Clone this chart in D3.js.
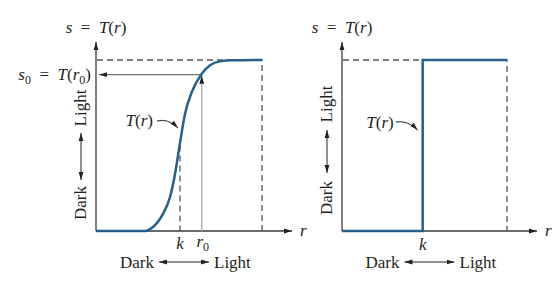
<!DOCTYPE html>
<html>
<head>
<meta charset="utf-8">
<script src="https://cdn.jsdelivr.net/npm/d3@7"></script>
<style>
  body { margin: 0; background: #fff; }
  text { font-family: "Liberation Serif", "DejaVu Serif", serif; fill: #231f20; }
</style>
</head>
<body>
<svg width="557" height="295"></svg>
<script>
let svg = d3.select("svg");

// curve (r and s both normalised to 0..1)
let curve_r = [0, 0.295, 0.343, 0.404, 0.446, 0.476, 0.506, 0.536, 0.577, 0.637, 0.687, 0.747, 0.825, 1];
let curve_s = [0, 0, 0.023, 0.102, 0.199, 0.333, 0.515, 0.684, 0.813, 0.92, 0.969, 0.992, 0.998, 1];
let k_left = 0.506;
let r0 = 0.637;
let s0 = 0.92;

// thresholding function on the right panel
let k_right = 0.489;
let step_r = [0, k_right, k_right, 1];
let step_s = [0, 0, 1, 1];

let blue = "#24618e";
let axis_col = "#3b3b3b";
let dash_col = "#555";

let y_scale = d3.scaleLinear().domain([0, 1]).range([231, 60]);
let x_left = d3.scaleLinear().domain([0, 1]).range([96, 262]);
let x_right = d3.scaleLinear().domain([0, 1]).range([342, 507]);

// arrowheads
let defs = svg.append("defs");
defs.append("marker")
  .attr("id", "head")
  .attr("viewBox", "0 0 10 10")
  .attr("refX", 10).attr("refY", 5)
  .attr("markerUnits", "userSpaceOnUse")
  .attr("markerWidth", 8).attr("markerHeight", 8)
  .attr("orient", "auto-start-reverse")
  .append("path")
    .attr("d", "M0,2 L10,5 L0,8 z")
    .attr("fill", "#222");

// writes a run of [text, italic, sub] pieces into a text node
const richText = function(sel, parts) {
  let shifted = false;
  parts.forEach(([t, it, sub]) => {
    let dy = sub ? (shifted ? 0 : 4) : (shifted ? -4 : 0);
    sel.append("tspan")
      .style("font-style", it ? "italic" : "normal")
      .style("font-size", sub ? "12px" : null)
      .attr("dy", dy || null)
      .text(t);
    shifted = !!sub;
  });
  return sel;
};

const eq = "\u2002=\u2002";
const sTr = [["s", true], [eq, false], ["T", true], ["(", false], ["r", true], [")", false]];

const drawPanel = function(x_scale, opt) {
  let g = svg.append("g");
  let x0 = x_scale(0), x1 = x_scale(1);
  let y0 = y_scale(0), y1 = y_scale(1);

  // axes
  g.append("line")
    .attr("x1", x0).attr("y1", y0).attr("x2", x0).attr("y2", 42)
    .attr("stroke", axis_col).attr("stroke-width", 1.3)
    .attr("marker-end", "url(#head)");
  g.append("line")
    .attr("x1", x0).attr("y1", y0).attr("x2", x1 + 30).attr("y2", y0)
    .attr("stroke", axis_col).attr("stroke-width", 1.3)
    .attr("marker-end", "url(#head)");

  // dashed bounds
  g.append("path")
    .attr("d", `M${x0 + 1},${y1}H${x1}V${y0}`)
    .attr("fill", "none")
    .attr("stroke", dash_col).attr("stroke-width", 1.3)
    .attr("stroke-dasharray", "6,4");

  g.append("text")
    .attr("x", x1 + 38).attr("y", y0 + 5)
    .style("font-size", "17px").style("font-style", "italic")
    .text("r");

  richText(g.append("text")
    .attr("x", x0).attr("y", 33)
    .attr("text-anchor", "middle")
    .style("font-size", "17px"), sTr);

  // vertical Dark <-> Light
  let ax = x0 - 15;
  g.append("text")
    .attr("transform", `translate(${ax},${opt.lightY}) rotate(-90)`)
    .attr("text-anchor", "middle").attr("dy", "0.3em")
    .style("font-size", "17px").text("Light");
  g.append("text")
    .attr("transform", `translate(${ax},${opt.darkY}) rotate(-90)`)
    .attr("text-anchor", "middle").attr("dy", "0.3em")
    .style("font-size", "17px").text("Dark");
  g.append("line")
    .attr("x1", ax).attr("y1", opt.arrowY[0]).attr("x2", ax).attr("y2", opt.arrowY[1])
    .attr("stroke", "#222").attr("stroke-width", 1)
    .attr("marker-start", "url(#head)").attr("marker-end", "url(#head)");

  // horizontal Dark <-> Light
  let mid = (x0 + x1) / 2 + 5;
  g.append("text")
    .attr("x", mid - 30).attr("y", 268)
    .attr("text-anchor", "end")
    .style("font-size", "17px").text("Dark");
  g.append("text")
    .attr("x", mid + 30).attr("y", 268)
    .style("font-size", "17px").text("Light");
  g.append("line")
    .attr("x1", mid - 25).attr("y1", 262).attr("x2", mid + 25).attr("y2", 262)
    .attr("stroke", "#222").attr("stroke-width", 1)
    .attr("marker-start", "url(#head)").attr("marker-end", "url(#head)");

  return g;
};

// ---- left panel ----
let left = drawPanel(x_left, { lightY: 108, darkY: 203, arrowY: [133, 180] });

let line_left = d3.line()
  .x((d, i) => x_left(curve_r[i]))
  .y((d) => y_scale(d))
  .curve(d3.curveMonotoneX);

// k dashed drop line
left.append("line")
  .attr("x1", x_left(k_left)).attr("x2", x_left(k_left))
  .attr("y1", y_scale(0.5)).attr("y2", y_scale(0))
  .attr("stroke", dash_col).attr("stroke-width", 1.3)
  .attr("stroke-dasharray", "6,4");

// r0 -> s0 arrows
left.append("line")
  .attr("x1", x_left(r0)).attr("x2", x_left(r0))
  .attr("y1", y_scale(0)).attr("y2", y_scale(s0) + 2)
  .attr("stroke", "#aaa").attr("stroke-width", 1.3)
  .attr("marker-end", "url(#head)");
left.append("line")
  .attr("x1", x_left(r0)).attr("x2", x_left(0) + 3)
  .attr("y1", y_scale(s0) + 1).attr("y2", y_scale(s0) + 1)
  .attr("stroke", "#555").attr("stroke-width", 1)
  .attr("marker-end", "url(#head)");

left.append("path")
  .datum(curve_s)
  .attr("d", line_left)
  .attr("fill", "none")
  .attr("stroke", blue).attr("stroke-width", 2.5);

richText(left.append("text")
  .attr("x", 91).attr("y", y_scale(s0) + 6)
  .attr("text-anchor", "end")
  .style("font-size", "17px"),
  [["s", true], ["0", false, true], [eq, false], ["T", true], ["(", false], ["r", true], ["0", false, true], [")", false]]);

left.append("text")
  .attr("x", x_left(k_left)).attr("y", 249)
  .attr("text-anchor", "middle")
  .style("font-size", "17px").style("font-style", "italic")
  .text("k");
richText(left.append("text")
  .attr("x", x_left(r0) + 1).attr("y", 247)
  .attr("text-anchor", "middle")
  .style("font-size", "17px"), [["r", true], ["0", false, true]]);

// T(r) pointer
let tx = x_left(k_left);
richText(left.append("text")
  .attr("x", tx - 27).attr("y", 126)
  .attr("text-anchor", "end")
  .style("font-size", "17px"), [["T", true], ["(", false], ["r", true], [")", false]]);
left.append("path")
  .attr("d", `M${tx - 23},121 Q${tx - 12},118 ${tx - 2},128`)
  .attr("fill", "none").attr("stroke", "#222").attr("stroke-width", 1)
  .attr("marker-end", "url(#head)");

// ---- right panel ----
let right = drawPanel(x_right, { lightY: 104, darkY: 198, arrowY: [130, 173] });

let line_right = d3.line()
  .x((d, i) => x_right(step_r[i]))
  .y((d) => y_scale(d));

right.append("path")
  .datum(step_s)
  .attr("d", line_right)
  .attr("fill", "none")
  .attr("stroke", blue).attr("stroke-width", 2.5);

right.append("text")
  .attr("x", x_right(k_right)).attr("y", 250)
  .attr("text-anchor", "middle")
  .style("font-size", "17px").style("font-style", "italic")
  .text("k");

let kx = x_right(k_right);
richText(right.append("text")
  .attr("x", kx - 29).attr("y", 128)
  .attr("text-anchor", "end")
  .style("font-size", "17px"), [["T", true], ["(", false], ["r", true], [")", false]]);
right.append("path")
  .attr("d", `M${kx - 27},122 Q${kx - 15},120 ${kx - 5},130`)
  .attr("fill", "none").attr("stroke", "#222").attr("stroke-width", 1)
  .attr("marker-end", "url(#head)");
</script>
</body>
</html>
